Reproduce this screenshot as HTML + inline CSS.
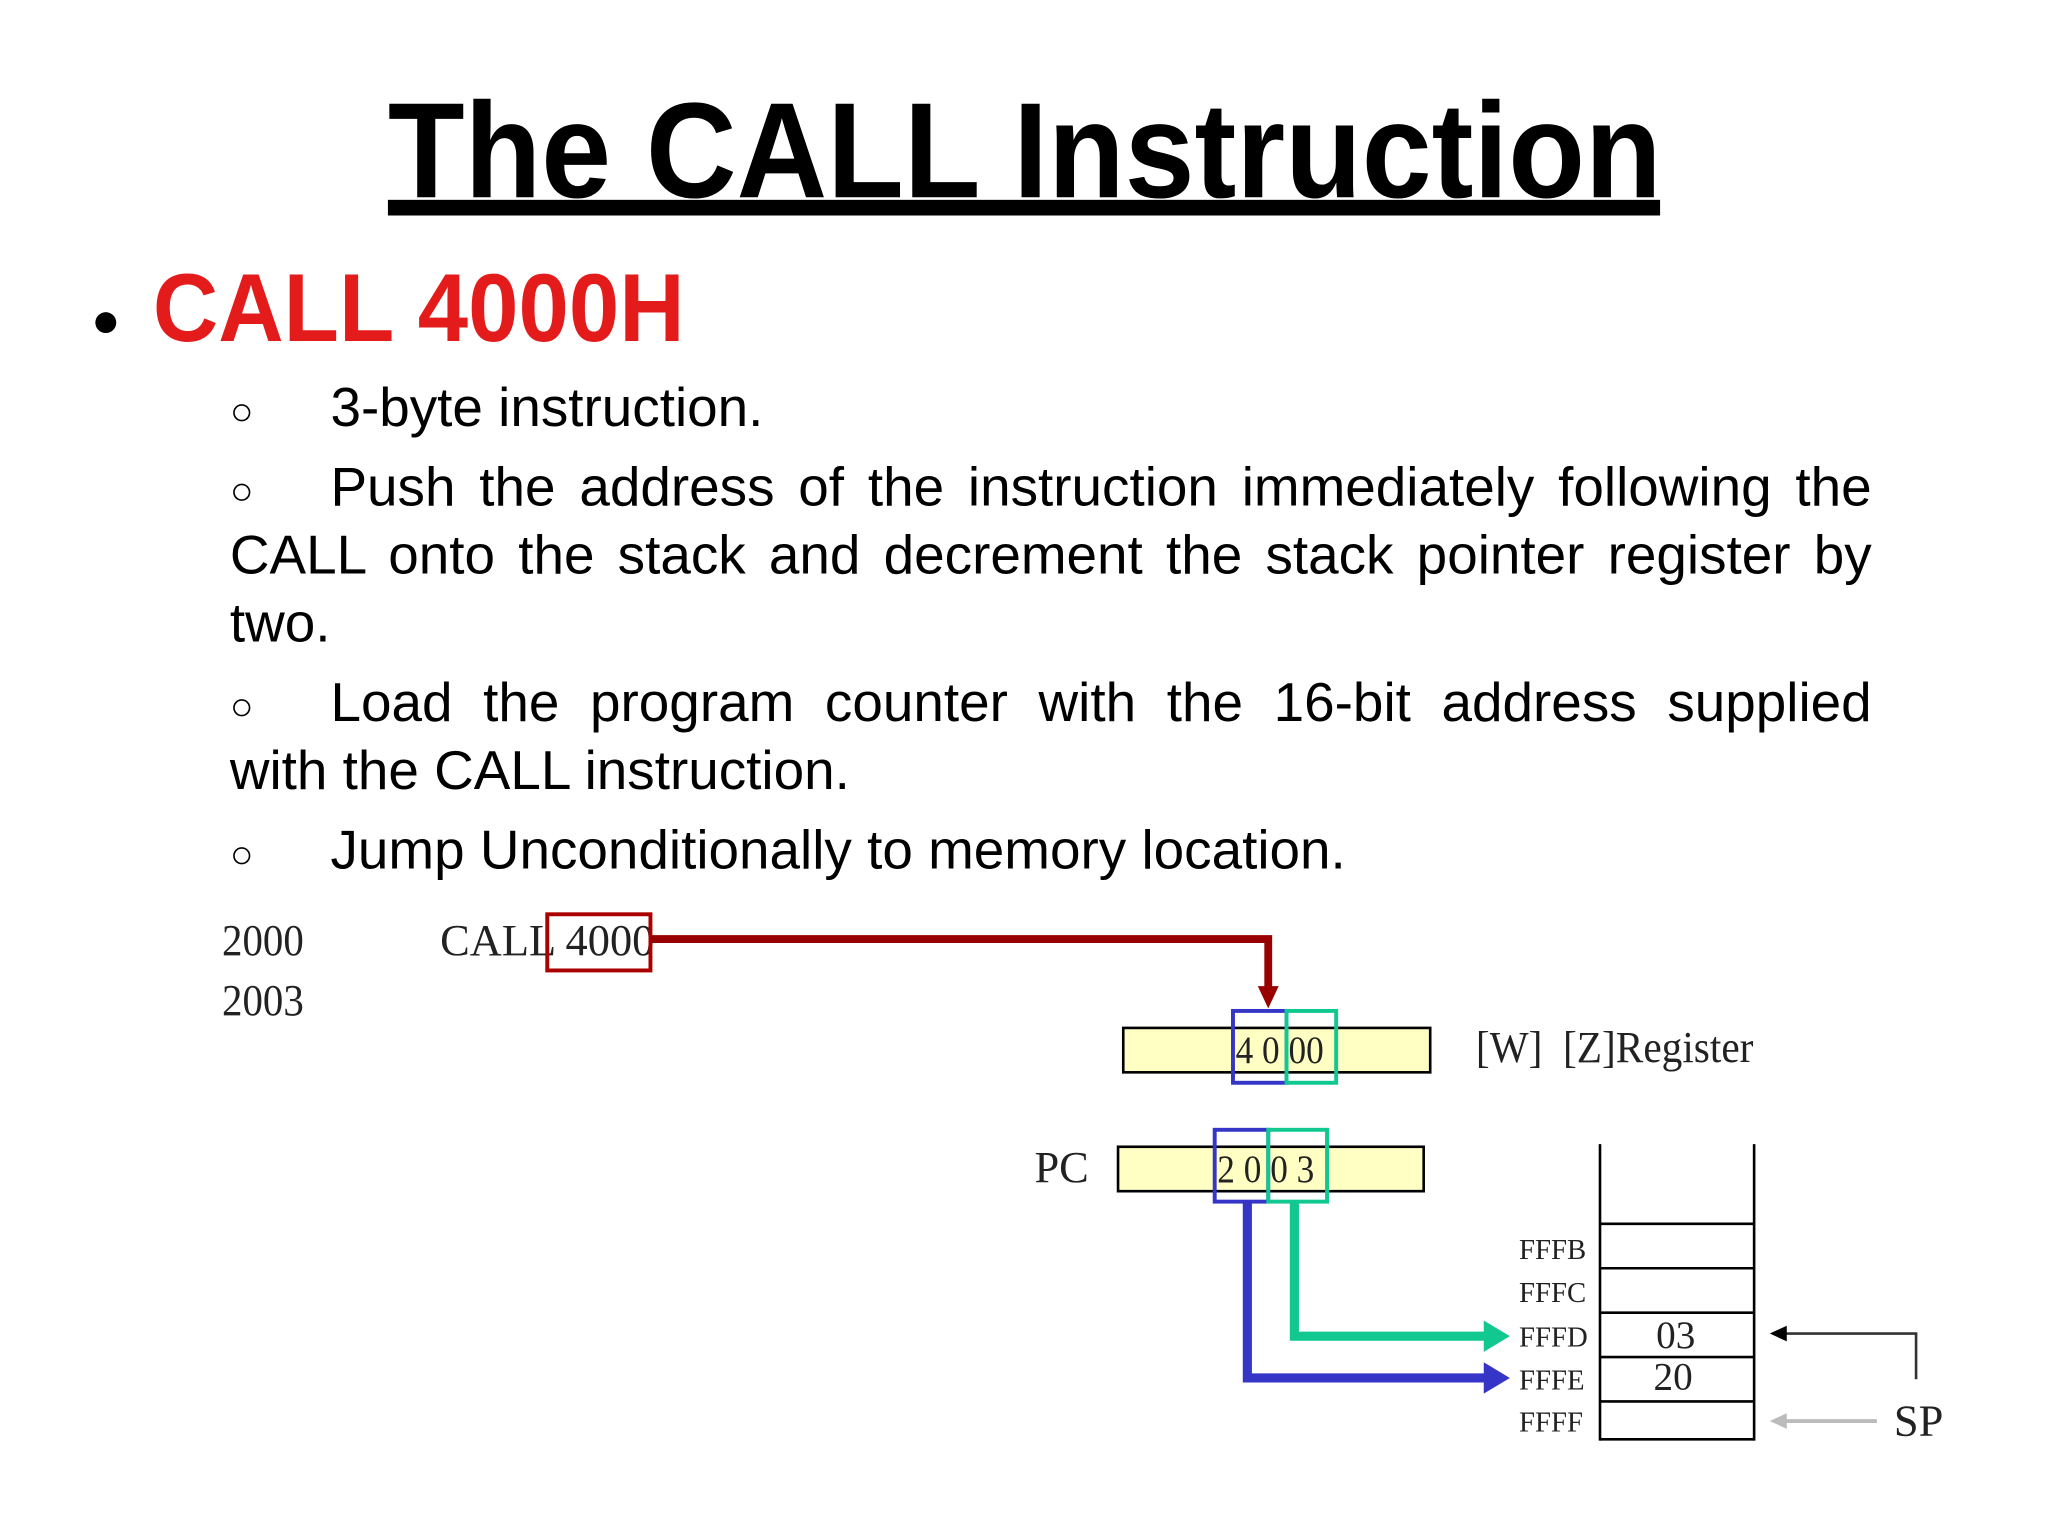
<!DOCTYPE html>
<html><head><meta charset="utf-8"><style>
html,body{margin:0;padding:0;background:#fff;}
#w{width:1568px;height:1176px;position:relative;transform:scale(1.306122);transform-origin:0 0;overflow:hidden;}
.t{position:absolute;white-space:nowrap;font-family:"Liberation Sans",sans-serif;}
.s{position:absolute;white-space:nowrap;font-family:"Liberation Serif",serif;color:#222;}
.l{position:absolute;font-family:"Liberation Sans",sans-serif;font-size:42px;line-height:52px;white-space:nowrap;}
.j{text-align:justify;text-align-last:justify;white-space:normal;}
.o{position:absolute;left:176px;font-family:"Liberation Sans",sans-serif;font-size:30px;line-height:52px;}
</style></head><body><div id="w">
<div class="t" style="left:297px;top:56px;font-size:104px;font-weight:bold;line-height:120px;transform:scaleX(0.924);transform-origin:0 0;">The CALL Instruction</div>
<div style="position:absolute;left:297px;top:153px;width:974px;height:12px;background:#000"></div>
<div style="position:absolute;left:73px;top:239px;width:16px;height:16px;border-radius:50%;background:#000"></div>
<div class="t" style="left:117px;top:196px;font-size:74px;font-weight:bold;color:#e31b1b;line-height:80px;transform:scaleX(0.937);transform-origin:0 0;">CALL 4000H</div>

<div class="o" style="top:290px">○</div>
<div class="l" style="left:253px;top:286px">3-byte instruction.</div>
<div class="o" style="top:351px">○</div>
<div class="l j" style="left:253px;top:347px;width:1180px">Push the address of the instruction immediately following the</div>
<div class="l j" style="left:176px;top:399px;width:1257px">CALL onto the stack and decrement the stack pointer register by</div>
<div class="l" style="left:176px;top:451px">two.</div>
<div class="o" style="top:516px">○</div>
<div class="l j" style="left:253px;top:512px;width:1180px">Load the program counter with the 16-bit address supplied</div>
<div class="l" style="left:176px;top:564px">with the CALL instruction.</div>
<div class="o" style="top:629px">○</div>
<div class="l" style="left:253px;top:625px">Jump Unconditionally to memory location.</div>

<div class="s" style="left:170px;top:702px;font-size:34px;transform:scaleX(0.92);transform-origin:0 0">2000</div>
<div class="s" style="left:170px;top:748px;font-size:34px;transform:scaleX(0.92);transform-origin:0 0">2003</div>
<div class="s" style="left:337px;top:702px;font-size:34px;">CALL 4000</div>
<svg style="position:absolute;left:0;top:0" width="1568" height="1176">
<rect x="419" y="700" width="79" height="43" fill="none" stroke="#a00" stroke-width="3"/>
<polyline points="498,719 971,719 971,758" fill="none" stroke="#900" stroke-width="6"/>
<polygon points="963,755 979,755 971,772" fill="#900"/>
<rect x="860" y="787" width="235" height="34" fill="#ffffc4" stroke="#000" stroke-width="2"/>
<rect x="856" y="878" width="234" height="34" fill="#ffffc4" stroke="#000" stroke-width="2"/>
<polyline points="955,920 955,1055 1140,1055" fill="none" stroke="#3535c8" stroke-width="7"/>
<polygon points="1136,1043 1156,1055 1136,1067" fill="#3535c8"/>
<polyline points="991,920 991,1023 1140,1023" fill="none" stroke="#10c890" stroke-width="7"/>
<polygon points="1136,1011 1156,1023 1136,1035" fill="#10c890"/>
<rect x="944" y="774" width="41" height="55" fill="none" stroke="#3535c8" stroke-width="3"/>
<rect x="985" y="774" width="38" height="55" fill="none" stroke="#10c890" stroke-width="3"/>
<rect x="930" y="865" width="41" height="55" fill="none" stroke="#3535c8" stroke-width="3"/>
<rect x="971" y="865" width="45" height="55" fill="none" stroke="#10c890" stroke-width="3"/>
<g stroke="#000" stroke-width="2">
<line x1="1225" y1="876" x2="1225" y2="1103"/><line x1="1343" y1="876" x2="1343" y2="1103"/>
<line x1="1225" y1="937" x2="1343" y2="937"/><line x1="1225" y1="971" x2="1343" y2="971"/>
<line x1="1225" y1="1005" x2="1343" y2="1005"/><line x1="1225" y1="1039" x2="1343" y2="1039"/>
<line x1="1225" y1="1073" x2="1343" y2="1073"/><line x1="1225" y1="1102" x2="1343" y2="1102"/>
</g>
<polyline points="1467,1056 1467,1021 1365,1021" fill="none" stroke="#333" stroke-width="2"/>
<polygon points="1368,1015 1355,1021 1368,1027" fill="#000"/>
<line x1="1437" y1="1088" x2="1365" y2="1088" stroke="#bbb" stroke-width="3"/>
<polygon points="1368,1082 1355,1088 1368,1094" fill="#bbb"/>
</svg>
<div class="s" style="left:946px;top:788px;font-size:30px;transform:scaleX(0.9);transform-origin:0 0">4 0 00</div>
<div class="s" style="left:932px;top:879px;font-size:30px;transform:scaleX(0.9);transform-origin:0 0">2 0 0 3</div>
<div class="s" style="left:1130px;top:784px;font-size:34px;transform:scaleX(0.93);transform-origin:0 0">[W]&nbsp; [Z]Register</div>
<div class="s" style="left:792px;top:876px;font-size:34px;">PC</div>
<div class="s" style="left:1163px;top:944px;font-size:22px;">FFFB</div>
<div class="s" style="left:1163px;top:977px;font-size:22px;">FFFC</div>
<div class="s" style="left:1163px;top:1011px;font-size:22px;">FFFD</div>
<div class="s" style="left:1163px;top:1044px;font-size:22px;">FFFE</div>
<div class="s" style="left:1163px;top:1076px;font-size:22px;">FFFF</div>
<div class="s" style="left:1268px;top:1006px;font-size:30px;">03</div>
<div class="s" style="left:1266px;top:1038px;font-size:30px;">20</div>
<div class="s" style="left:1450px;top:1070px;font-size:34px;">SP</div>
</div></body></html>
